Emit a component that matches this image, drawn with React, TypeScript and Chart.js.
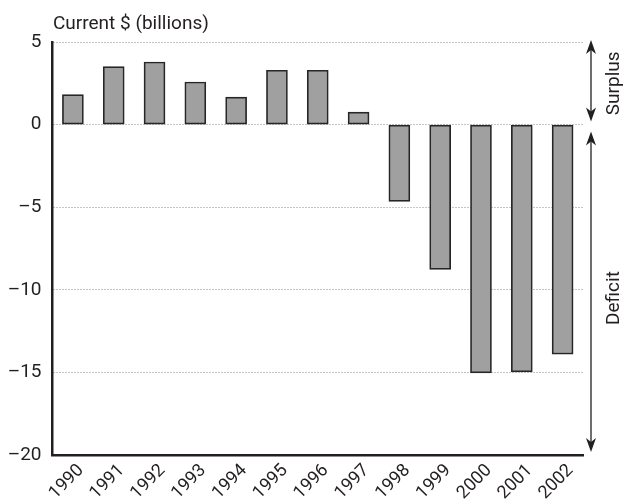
import { useEffect, useRef } from "react";
import { Chart, registerables } from "chart.js";

Chart.register(...registerables);

const years = ["1990", "1991", "1992", "1993", "1994", "1995", "1996", "1997", "1998", "1999", "2000", "2001", "2002"];
const balance = [1.82, 3.51, 3.79, 2.58, 1.67, 3.29, 3.29, 0.76, -4.65, -8.77, -15.03, -14.97, -13.9];
const yTickValues = [5, 0, -5, -10, -15, -20];
const unitLabel = "Current $ (billions)";
const surplusLabel = "Surplus";
const deficitLabel = "Deficit";

const FONT = "Roboto, 'Liberation Sans', sans-serif";
const INK = "#231f20";

function arrowHead(ctx: CanvasRenderingContext2D, x: number, y: number, dir: number) {
  // dir = -1 pointing up, 1 pointing down
  const len = 14;
  const half = 5;
  ctx.beginPath();
  ctx.moveTo(x, y);
  ctx.lineTo(x - half, y - dir * len);
  ctx.lineTo(x, y - dir * (len - 4));
  ctx.lineTo(x + half, y - dir * len);
  ctx.closePath();
  ctx.fill();
}

function doubleArrow(ctx: CanvasRenderingContext2D, x: number, y1: number, y2: number) {
  ctx.beginPath();
  ctx.moveTo(x, y1 + 6);
  ctx.lineTo(x, y2 - 6);
  ctx.stroke();
  arrowHead(ctx, x, y1, -1);
  arrowHead(ctx, x, y2, 1);
}

const annotations = {
  id: "annotations",
  afterDraw(chart: any) {
    const { ctx, chartArea, scales } = chart;
    const y = scales.y;
    ctx.save();
    // unit label
    ctx.fillStyle = INK;
    ctx.font = `19px ${FONT}`;
    ctx.textAlign = "left";
    ctx.textBaseline = "alphabetic";
    ctx.fillText(unitLabel, 53, 29);

    // arrows
    const ax = chartArea.right + 8;
    ctx.strokeStyle = INK;
    ctx.fillStyle = INK;
    ctx.lineWidth = 1.3;
    doubleArrow(ctx, ax, y.getPixelForValue(5) - 2, y.getPixelForValue(0) - 3);
    doubleArrow(ctx, ax, y.getPixelForValue(0) + 7, y.getPixelForValue(-20) - 3);

    // zone labels
    ctx.font = `19px ${FONT}`;
    ctx.textAlign = "center";
    ctx.textBaseline = "middle";
    const lx = chartArea.right + 31;
    const drawV = (text: string, cy: number) => {
      ctx.save();
      ctx.translate(lx, cy);
      ctx.rotate(-Math.PI / 2);
      ctx.fillText(text, 0, 0);
      ctx.restore();
    };
    drawV(surplusLabel, y.getPixelForValue(2.5));
    drawV(deficitLabel, y.getPixelForValue(-10.5));
    ctx.restore();
  },
};

export default function App() {
  const ref = useRef<HTMLCanvasElement | null>(null);

  useEffect(() => {
    if (!ref.current) return;
    const chart = new Chart(ref.current, {
      type: "bar",
      data: {
        labels: years,
        datasets: [
          {
            data: balance,
            backgroundColor: "#a0a0a0",
            borderColor: "#262626",
            borderWidth: 1.7,
            borderSkipped: false,
            barThickness: 21,
          },
        ],
      },
      options: {
        responsive: false,
        animation: false,
        events: [],
        layout: { padding: { top: 42, right: 41, left: 0, bottom: 0 } },
        plugins: {
          legend: { display: false },
          tooltip: { enabled: false },
          title: { display: false },
        },
        scales: {
          x: {
            type: "category",
            offset: true,
            grid: { display: false, drawTicks: false },
            border: { display: true, color: INK, width: 2.5 },
            ticks: {
              color: INK,
              font: { family: FONT, size: 18 },
              autoSkip: false,
              maxRotation: 45,
              minRotation: 45,
              padding: 5,
              labelOffset: 8,
            },
            afterFit: (scale: any) => {
              scale.height = 49;
            },
          },
          y: {
            min: -20,
            max: 5,
            afterBuildTicks: (scale: any) => {
              scale.ticks = yTickValues.map((v) => ({ value: v }));
            },
            grid: {
              drawTicks: false,
              lineWidth: 1,
              color: (c: any) => (c.tick && c.tick.value === -20 ? "rgba(0,0,0,0)" : "#8a8a8a"),
            },
            border: { display: true, color: INK, width: 2.5, dash: [1, 2] },
            ticks: {
              color: INK,
              font: { family: FONT, size: 19 },
              padding: 11,
              callback: (v: any) => (Number(v) < 0 ? "\u2013" + Math.abs(Number(v)) : String(v)),
            },
            afterFit: (scale: any) => {
              scale.width = 52.5;
            },
          },
        },
      },
      plugins: [annotations],
    });
    return () => chart.destroy();
  }, []);

  return (
    <div style={{ position: "fixed", left: 0, top: 0, width: 624, height: 504, background: "#fff" }}>
      <canvas ref={ref} width={624} height={504} style={{ display: "block", width: 624, height: 504 }} />
    </div>
  );
}
